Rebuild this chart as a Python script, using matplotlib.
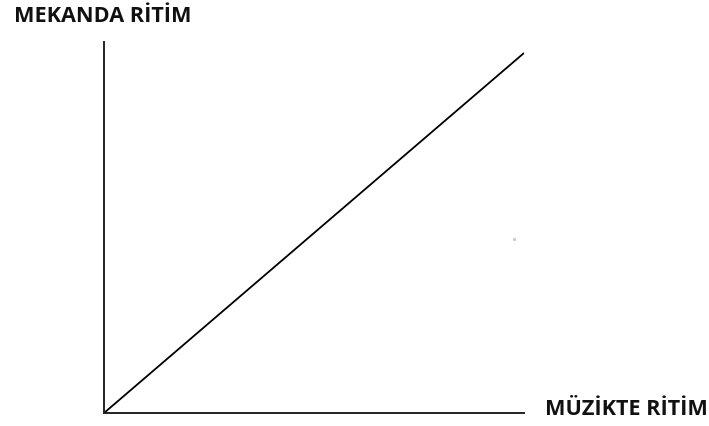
import matplotlib
matplotlib.use("Agg")
import matplotlib.pyplot as plt

# relation between rhythm in music and rhythm in space
muzik_ritim = [0.0, 1.0]
mekan_ritim = [0.0, 1.0]
x_label = "MÜZİKTE RİTİM"
y_label = "MEKANDA RİTİM"

W, H = 709, 426
fig = plt.figure(figsize=(W / 100, H / 100), dpi=100)
fig.patch.set_facecolor("white")

ax = fig.add_axes([104 / W, 13 / H, 420 / W, 371 / H])
ax.plot(muzik_ritim, mekan_ritim, color="black", lw=1.3, solid_capstyle="butt")
ax.set_xlim(0, 1)
ax.set_ylim(0, 371 / 360)
ax.set_xticks([])
ax.set_yticks([])
for side in ["top", "right"]:
    ax.spines[side].set_visible(False)
for side in ["left", "bottom"]:
    ax.spines[side].set_color("#222222")
    ax.spines[side].set_linewidth(1.4)
ax.patch.set_alpha(0)

# tiny grey speck seen in the original
ax.plot([0.975], [0.483], marker="s", ms=2, color="#cccccc", mec="#b8b8b8", mew=0.4)

fig.text(14 / W, 1 - 22 / H, y_label, fontsize=15.6, fontweight="bold",
         family="Open Sans", ha="left", va="baseline", color="#111111")
fig.text(545 / W, 1 - 415 / H, x_label, fontsize=15.6, fontweight="bold",
         family="Open Sans", ha="left", va="baseline", color="#111111")

fig.savefig("out.png", dpi=100)
